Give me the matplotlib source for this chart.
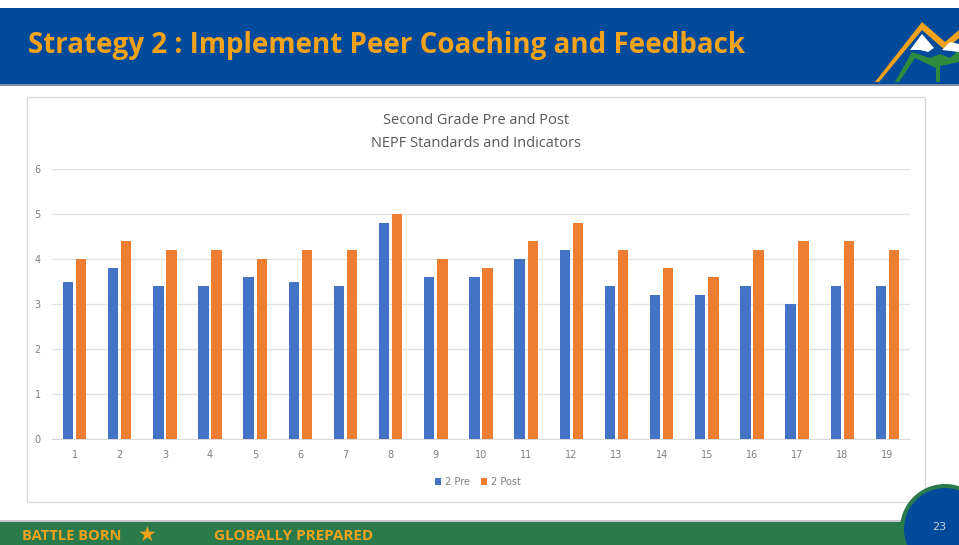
import numpy as np
import matplotlib.pyplot as plt
from matplotlib.patches import Rectangle, Ellipse, Polygon

# data
categories = [str(i) for i in range(1, 20)]
pre = [3.5, 3.8, 3.4, 3.4, 3.6, 3.5, 3.4, 4.8, 3.6, 3.6, 4.0, 4.2, 3.4, 3.2, 3.2, 3.4, 3.0, 3.4, 3.4]
post = [4.0, 4.4, 4.2, 4.2, 4.0, 4.2, 4.2, 5.0, 4.0, 3.8, 4.4, 4.8, 4.2, 3.8, 3.6, 4.2, 4.4, 4.4, 4.2]

W, H = 959, 545
fig = plt.figure(figsize=(W / 100, H / 100), dpi=100)

def box(x0, y0, x1, y1, **kw):
    # pixel coords, y from top
    fig.patches.append(Rectangle((x0 / W, 1 - y1 / H), (x1 - x0) / W, (y1 - y0) / H,
                                 transform=fig.transFigure, **kw))

def poly(pts, **kw):
    fig.patches.append(Polygon([(x / W, 1 - y / H) for x, y in pts], closed=True,
                               transform=fig.transFigure, **kw))

# header band
box(0, 8, 959, 84, facecolor='#034A9A', edgecolor='none', zorder=0)
box(0, 84, 959, 86, facecolor='#7F8FA6', edgecolor='none', zorder=0)
fig.text(28 / W, 1 - 46 / H, 'Strategy 2 : Implement Peer Coaching and Feedback',
         fontsize=20, fontweight='bold', color='#F3A21C', family='Open Sans',
         va='center', ha='left')

# mountain logo
poly([(875, 82), (922, 22), (945, 42), (959, 30), (959, 38), (945, 50), (922, 30), (879, 82)],
     facecolor='#F3A21C', edgecolor='none', zorder=2)
poly([(895, 82), (912, 52), (930, 58), (940, 54), (950, 58), (959, 50), (959, 62), (940, 66), (940, 82),
      (936, 82), (936, 68), (915, 58), (899, 82)], facecolor='#2E8B3E', edgecolor='none', zorder=2)
poly([(910, 50), (922, 34), (934, 48), (928, 52), (920, 50)], facecolor='white', edgecolor='none', zorder=3)
poly([(942, 50), (950, 42), (959, 44), (959, 52)], facecolor='white', edgecolor='none', zorder=3)

# chart card
box(27, 97, 925, 502, facecolor='white', edgecolor='#D9D9D9', linewidth=1, zorder=0)

# footer band
box(0, 522, 959, 545, facecolor='#2A7A4B', edgecolor='none', zorder=0)
box(0, 520, 959, 522, facecolor='#C9C9C9', edgecolor='none', zorder=0)
fig.text(22 / W, 1 - 536 / H, 'BATTLE BORN', fontsize=10.5, fontweight='bold',
         color='#F3A21C', family='Open Sans', va='center', ha='left')
fig.text(147 / W, 1 - 535 / H, '\u2605', fontsize=15, color='#F3A21C',
         family='DejaVu Sans', va='center', ha='center')
fig.text(214 / W, 1 - 536 / H, 'GLOBALLY PREPARED', fontsize=11, fontweight='bold',
         color='#F3A21C', family='Open Sans', va='center', ha='left')
fig.patches.append(Ellipse((945 / W, 1 - 529 / H), 90 / W, 90 / H, transform=fig.transFigure,
                           facecolor='#2A7A4B', edgecolor='none', zorder=1))
fig.patches.append(Ellipse((945 / W, 1 - 529 / H), 82 / W, 82 / H, transform=fig.transFigure,
                           facecolor='#034A9A', edgecolor='none', zorder=1))
fig.text(939 / W, 1 - 527 / H, '23', fontsize=8, color='#C8D0E0', va='center', ha='center')

# chart
ax = fig.add_axes([52 / W, 1 - 439 / H, (910 - 52) / W, (439 - 169) / H])
ax.set_zorder(3)
ax.patch.set_visible(False)
x = np.arange(len(categories))
bw = 0.23
ax.bar(x - bw / 2 - 0.03, pre, bw, color='#4472C4', label='2 Pre', zorder=3)
ax.bar(x + bw / 2 + 0.03, post, bw, color='#ED7D31', label='2 Post', zorder=3)
ax.set_xlim(-0.5, len(categories) - 0.5)
ax.set_ylim(0, 6)
ax.set_yticks(range(0, 7))
ax.set_xticks(x)
ax.set_xticklabels(categories)
ax.grid(axis='y', color='#E3E3E3', linewidth=1, zorder=0)
ax.tick_params(length=0, labelsize=7, colors='#7F7F7F', pad=8)
for s in ['top', 'right', 'left']:
    ax.spines[s].set_visible(False)
ax.spines['bottom'].set_color('#D9D9D9')

fig.text(476 / W, 1 - 120 / H, 'Second Grade Pre and Post', fontsize=10.5, color='#595959',
         ha='center', va='center', family='Open Sans')
fig.text(476 / W, 1 - 143 / H, 'NEPF Standards and Indicators', fontsize=10.5, color='#595959',
         ha='center', va='center', family='Open Sans')

ax.legend(loc='center', bbox_to_anchor=(478 / W, 1 - 482 / H), bbox_transform=fig.transFigure,
          ncol=2, frameon=False, fontsize=7, handlelength=0.6, handleheight=0.6,
          handletextpad=0.4, columnspacing=1.2, labelcolor='#7F7F7F')

fig.savefig('out.png', dpi=100)
